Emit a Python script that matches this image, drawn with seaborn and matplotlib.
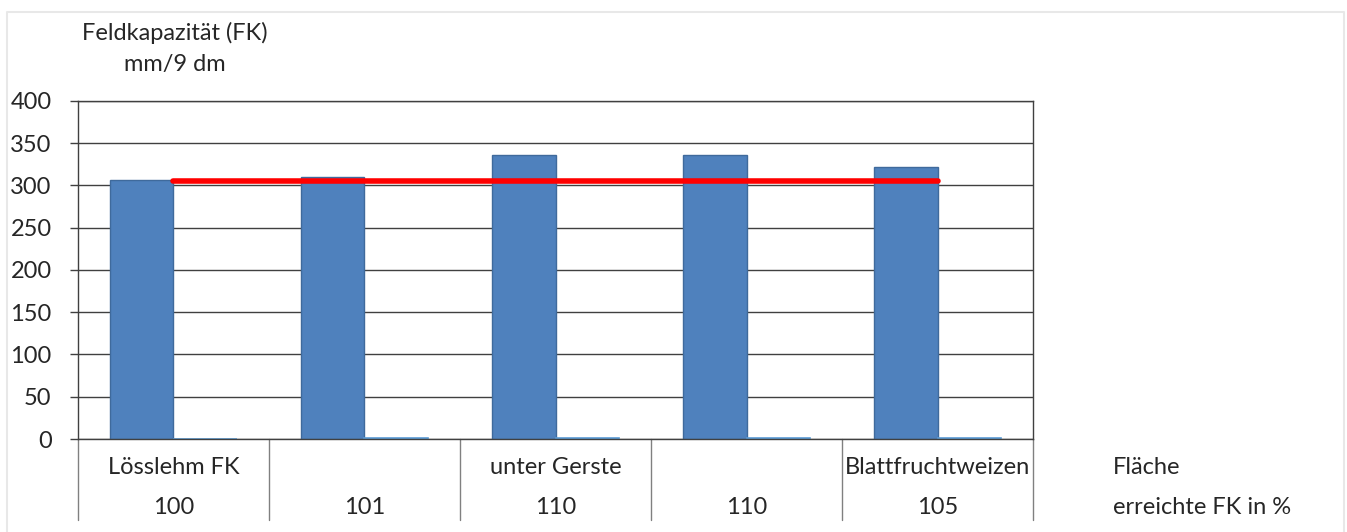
import numpy as np
import pandas as pd
import matplotlib.pyplot as plt
import seaborn as sns

# data
flaeche = ["Lösslehm FK", "", "unter Gerste", "", "Blattfruchtweizen"]
erreicht = ["100", "101", "110", "110", "105"]
fk_mm = [306, 310, 336, 336, 322]
zweite_reihe = [0, 1, 1, 1, 1]
fk_ref = [305, 305, 305, 305, 305]
y_ticks = [0, 50, 100, 150, 200, 250, 300, 350, 400]

cats = [f"k{i}" for i in range(len(fk_mm))]
df = pd.DataFrame({
    "cat": cats * 2,
    "value": fk_mm + zweite_reihe,
    "series": ["FK"] * len(cats) + ["zwei"] * len(cats),
})

sns.set_style("white")
plt.rcParams["font.family"] = ["Lato", "DejaVu Sans"]
fs = 17

fig = plt.figure(figsize=(13.47, 5.32), dpi=100)
ax = fig.add_axes([0.0579, 0.1748, 0.7090, 0.6354])

sns.barplot(data=df, x="cat", y="value", hue="series", order=cats,
            palette=["#4F81BD", "#FFFFFF"], width=0.66, ax=ax,
            legend=False, saturation=1)
for p in ax.containers[0]:
    p.set_edgecolor("#3F6A9C")
    p.set_linewidth(1)
for p in ax.containers[1]:
    p.set_edgecolor("#5B9BD5")
    p.set_linewidth(1.2)

sns.lineplot(x=np.arange(len(fk_ref)), y=fk_ref, color="#FF0000",
             linewidth=4, solid_capstyle="round", ax=ax)

ax.set_ylim(0, 400)
ax.set_xlim(-0.5, len(cats) - 0.5)
ax.set_yticks(y_ticks)
ax.tick_params(axis="y", labelsize=fs, length=6, width=1, color="#404040",
               direction="out", left=True, pad=13)
ax.yaxis.grid(True, color="#404040", linewidth=1)
ax.set_axisbelow(True)
ax.set_xticks([])
ax.set_xlabel("")
ax.set_ylabel("")
for s in ax.spines.values():
    s.set_color("#404040")
    s.set_linewidth(1)

# table below the axis
trans = ax.get_xaxis_transform()
for i in range(len(cats) + 1):
    ax.plot([i - 0.5, i - 0.5], [0, -0.24], color="#808080", lw=1,
            transform=trans, clip_on=False)
for i in range(len(cats)):
    ax.text(i, -0.083, flaeche[i], transform=trans, ha="center", va="center", fontsize=fs)
    ax.text(i, -0.204, erreicht[i], transform=trans, ha="center", va="center", fontsize=fs)

fig.text(0.826, 1 - 467 / 532, "Fläche", ha="left", va="center", fontsize=fs)
fig.text(0.826, 1 - 508 / 532, "erreichte FK in %", ha="left", va="center", fontsize=fs)

fig.text(0.13, 1 - 33 / 532, "Feldkapazität (FK)", ha="center", va="center", fontsize=fs)
fig.text(0.13, 1 - 65 / 532, "mm/9 dm", ha="center", va="center", fontsize=fs)

# faint frame around the chart area (open at the bottom)
fig.add_artist(plt.Line2D([0.0052, 0.0052, 0.9978, 0.9978], [0.0, 0.9774, 0.9774, 0.0],
                          transform=fig.transFigure, color="#E8E8E8", linewidth=1.5))

fig.savefig("out.png", dpi=100)
